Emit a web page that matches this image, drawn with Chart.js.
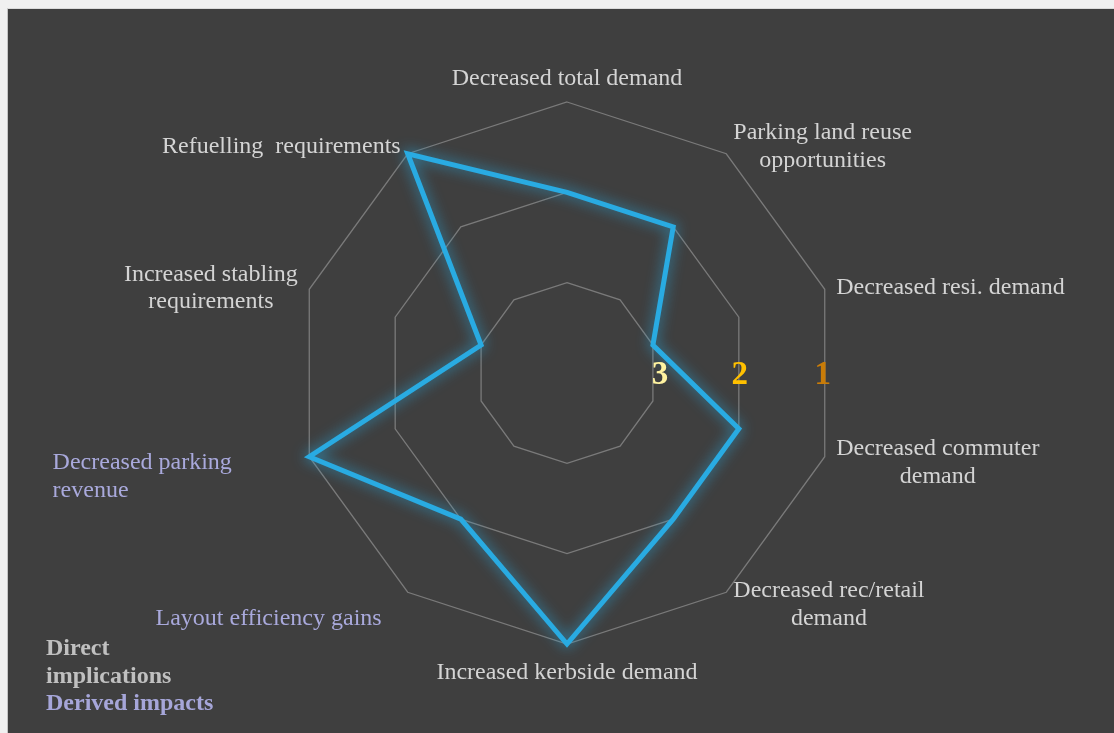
<!DOCTYPE html>
<html>
<head>
<meta charset="utf-8">
<script src="https://cdn.jsdelivr.net/npm/chart.js@4.4.0/dist/chart.umd.min.js"></script>
<style>
  html, body { margin: 0; padding: 0; background: #f0f0f0; }
  #wrap { position: relative; width: 1114px; height: 733px; overflow: hidden; }
  #panel { position: absolute; left: 7px; top: 8px; right: 0; bottom: 0; background: #3f3f3f; border-left: 1px solid #c4c4c4; border-top: 1px solid #dadada; }
  #radarChart { position: absolute; left: 0; top: 0; }
</style>
</head>
<body>
<div id="wrap">
  <div id="panel"></div>
  <canvas id="radarChart" width="1114" height="733"></canvas>
</div>
<script>
// Axis categories (clockwise from the top)
const categories = [
    'Decreased total demand',
    ['Parking land reuse', 'opportunities'],
    'Decreased resi. demand',
    ['Decreased commuter', 'demand'],
    ['Decreased rec/retail', 'demand'],
    'Increased kerbside demand',
    'Layout efficiency gains',
    ['Decreased parking', 'revenue'],
    ['Increased stabling', 'requirements'],
    'Refuelling  requirements'
];
// Rank for each axis: 1 = outer ring, 3 = inner ring
const rankValues = [2, 2, 3, 2, 2, 1, 2, 1, 3, 1];
// Which axes are derived impacts (the rest are direct implications)
const derivedAxes = [false, false, false, false, false, false, true, true, false, false];
// Ring labels
const rankTicks = [3, 2, 1];
const rankTickColors = ['#fff3a0', '#ffc000', '#c97c08'];
const legendLines = ['Direct', 'implications', 'Derived impacts'];

const directColor = '#d4d4d4';
const derivedColor = '#a9a9dc';
const serif = '"Liberation Serif", "Times New Roman", serif';

// Glow under the line
const glowPlugin = {
    id: 'glow',
    beforeDatasetsDraw(chart) {
        const ctx = chart.ctx;
        ctx.save();
        ctx.shadowColor = 'rgba(41, 171, 226, 0.85)';
        ctx.shadowBlur = 14;
    },
    afterDatasetsDraw(chart) {
        chart.ctx.restore();
    }
};

// Excel-style axis labels, ring numbers and the little legend
const textPlugin = {
    id: 'texts',
    afterDraw(chart) {
        const ctx = chart.ctx;
        const scale = chart.scales.r;
        const lh = 27.6;
        const nudge = { 6: [-19, 14], 7: [-66, 14] };
        const leftLines = { 7: true };

        ctx.save();
        ctx.font = '24px ' + serif;
        ctx.textBaseline = 'middle';
        ctx.textAlign = 'left';
        categories.forEach((label, i) => {
            const lines = Array.isArray(label) ? label : [label];
            const angle = scale.getIndexAngle(i);
            const p = scale.getPointPosition(i, scale.drawingArea + 12);
            const sin = Math.sin(angle), cos = Math.cos(angle);
            const widths = lines.map(l => ctx.measureText(l).width);
            const w = Math.max(...widths);
            const h = lines.length * lh;
            let left = sin > 0.1 ? p.x : (sin < -0.1 ? p.x - w : p.x - w / 2);
            let top = cos > 0.9 ? p.y - h : (cos < -0.9 ? p.y : p.y - h / 2);
            top += 2.5;
            if (nudge[i]) {
                left += nudge[i][0];
                top += nudge[i][1];
            }
            ctx.fillStyle = derivedAxes[i] ? derivedColor : directColor;
            lines.forEach((line, j) => {
                const x = leftLines[i] ? left : left + (w - widths[j]) / 2;
                ctx.fillText(line, x, top + lh * (j + 0.5));
            });
        });

        // ring numbers along the horizontal
        ctx.font = 'bold 33px ' + serif;
        ctx.textAlign = 'center';
        const tickNudge = [7, 1, -2];
        rankTicks.forEach((v, k) => {
            const d = scale.getDistanceFromCenterForValue(v) * Math.cos(Math.PI / 10);
            ctx.fillStyle = rankTickColors[k];
            ctx.fillText(String(v), scale.xCenter + d + tickNudge[k], scale.yCenter + 2);
        });

        // legend text
        ctx.font = 'bold 24px ' + serif;
        ctx.textAlign = 'left';
        legendLines.forEach((t, k) => {
            ctx.fillStyle = k < 2 ? '#c0c0c0' : '#a6a6d9';
            ctx.fillText(t, 46, 649 + k * 27.6);
        });
        ctx.restore();
    }
};

document.addEventListener('DOMContentLoaded', () => {
    const radarCtx = document.getElementById('radarChart').getContext('2d');
    new Chart(radarCtx, {
        type: 'radar',
        data: {
            labels: categories,
            datasets: [{
                label: 'Rank',
                data: rankValues,
                borderColor: '#29abe2',
                borderWidth: 5,
                borderJoinStyle: 'miter',
                pointRadius: 0,
                pointHoverRadius: 0,
                fill: false,
                tension: 0
            }]
        },
        options: {
            responsive: false,
            animation: false,
            layout: {
                padding: { left: 20, right: 0, top: 102, bottom: 89 }
            },
            plugins: {
                legend: { display: false },
                tooltip: { enabled: false }
            },
            scales: {
                r: {
                    min: 1,
                    max: 4,
                    reverse: true,
                    beginAtZero: false,
                    ticks: { display: false, stepSize: 1 },
                    grid: { color: '#7a7a7a', lineWidth: 1.3 },
                    angleLines: { display: false },
                    pointLabels: { display: false }
                }
            }
        },
        plugins: [glowPlugin, textPlugin]
    });
});
</script>
</body>
</html>
